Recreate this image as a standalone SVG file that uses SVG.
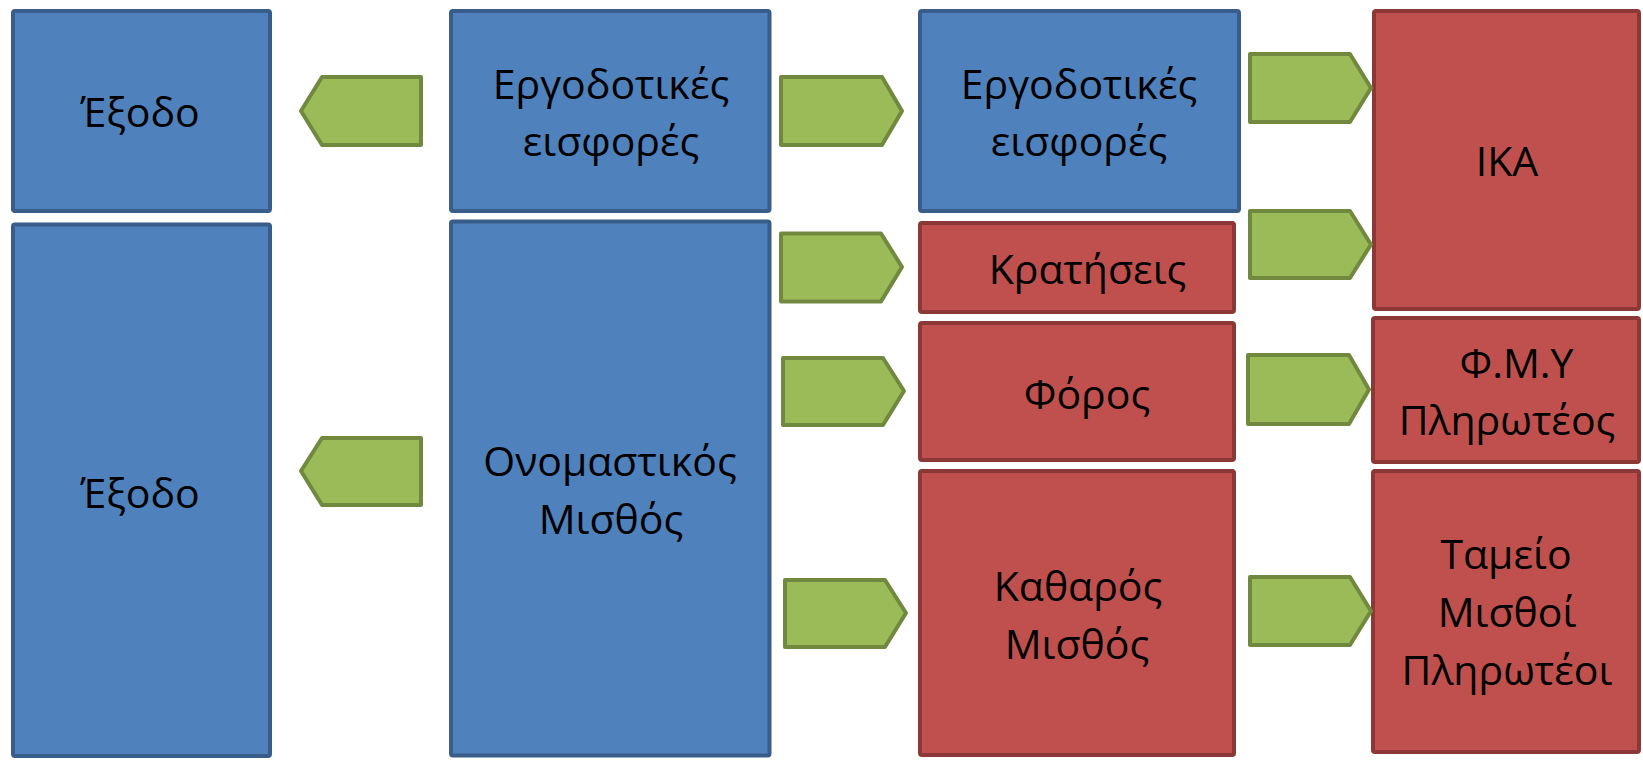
<svg xmlns="http://www.w3.org/2000/svg" width="1643" height="764" viewBox="0 0 1643 764">
<style>
.b{fill:#4F81BD;stroke:#385D8A;stroke-width:4}
.r{fill:#C0504D;stroke:#8C3836;stroke-width:4}
.a{fill:#9BBB59;stroke:#71893F;stroke-width:4;stroke-linejoin:round}
text{font-family:"Open Sans","Noto Sans","DejaVu Sans",sans-serif;font-size:41px;fill:#000;text-anchor:middle}
</style>
<rect width="1643" height="764" fill="#fff"/>
<g id="exodo1"><rect class="b" x="13" y="11" width="257" height="200" rx="2"/><text x="140" y="126.5">Έξοδο</text></g>
<g id="exodo2"><rect class="b" x="13" y="224.5" width="257" height="531.5" rx="2"/><text x="140" y="507.5">Έξοδο</text></g>
<g id="ergod1"><rect class="b" x="451" y="11" width="318.5" height="200" rx="2"/><text x="611" y="98.5">Εργοδοτικές</text><text x="611" y="156">εισφορές</text></g>
<g id="onomastikos"><rect class="b" x="451" y="221.5" width="318.5" height="534" rx="2"/><text x="610" y="476">Ονομαστικός</text><text x="611" y="534">Μισθός</text></g>
<g id="ergod2"><rect class="b" x="920" y="11" width="319" height="200" rx="2"/><text x="1079" y="98.5">Εργοδοτικές</text><text x="1079" y="156">εισφορές</text></g>
<g id="kratiseis"><rect class="r" x="920" y="223" width="314" height="89" rx="2"/><text x="1087.5" y="283.5">Κρατήσεις</text></g>
<g id="foros"><rect class="r" x="920" y="323" width="314" height="137" rx="2"/><text x="1087" y="408.5">Φόρος</text></g>
<g id="katharos"><rect class="r" x="920" y="471" width="314" height="284" rx="2"/><text x="1078" y="601">Καθαρός</text><text x="1077" y="658.5">Μισθός</text></g>
<g id="ika"><rect class="r" x="1374" y="11" width="265" height="298" rx="2"/><text x="1507" y="176">ΙΚΑ</text></g>
<g id="fmy"><rect class="r" x="1373" y="318" width="266" height="144" rx="2"/><text x="1516.5" y="377.5">Φ.Μ.Υ</text><text x="1507" y="434.5">Πληρωτέος</text></g>
<g id="tameio"><rect class="r" x="1373" y="471" width="266" height="281" rx="2"/><text x="1506" y="568.5">Ταμείο</text><text x="1507" y="626.5">Μισθοί</text><text x="1507" y="684.5">Πληρωτέοι</text></g>
<g id="connectors">
<path class="a" d="M421,77 L322,77 L301,111 L322,145 L421,145 Z"/>
<path class="a" d="M421,438 L322,438 L301,471 L322,505 L421,505 Z"/>
<path class="a" d="M781,77 L882,77 L902,111 L882,145 L781,145 Z"/>
<path class="a" d="M781,233.5 L881,233.5 L902,267 L881,301.5 L781,301.5 Z"/>
<path class="a" d="M783,358 L883,358 L904,391 L883,425 L783,425 Z"/>
<path class="a" d="M785,580 L885,580 L906,613 L885,647 L785,647 Z"/>
<path class="a" d="M1250,54 L1350,54 L1371,88 L1350,122 L1250,122 Z"/>
<path class="a" d="M1250,211 L1350,211 L1371,244.5 L1350,278 L1250,278 Z"/>
<path class="a" d="M1248,355 L1349,355 L1369,389.5 L1349,424 L1248,424 Z"/>
<path class="a" d="M1250,577 L1350,577 L1371,611 L1350,645 L1250,645 Z"/>
</g>
</svg>
